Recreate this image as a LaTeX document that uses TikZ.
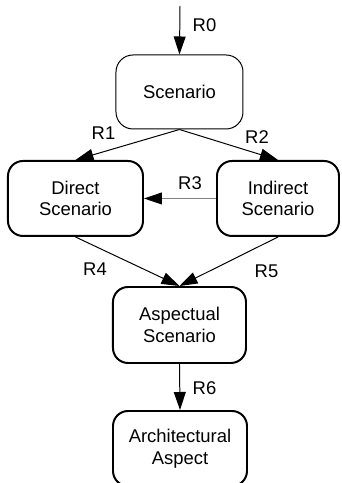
\documentclass[tikz,border=0pt]{standalone}
\usepackage{fontspec}
\setmainfont{Liberation Sans}
\usetikzlibrary{arrows.meta}
\begin{document}
\begin{tikzpicture}[
    box/.style={draw, line width=0.070cm, rounded corners=0.530cm, align=center, inner sep=0cm},
    thinbox/.style={box, line width=0.035cm, rounded corners=0.600cm},
    rlabel/.style={inner sep=0cm},
    link/.style={line width=0.035cm, -{Triangle[length=0.635cm, width=0.420cm, black]}}
  ]
  \useasboundingbox (0,0) rectangle (12.030000,17.039000);
  {\fontsize{18.5}{21.7}\selectfont

  % Drawing box Scenario
  \node [thinbox, minimum width=4.480000cm, minimum height=2.611000cm] (scen) at (6.332000,13.794000) {Scenario};%

  % Drawing box Direct Scenario
  \node [box, minimum width=4.763000cm, minimum height=2.646000cm] (direct) at (2.663000,10.037000) {Direct\\Scenario};%

  % Drawing box Indirect Scenario
  \node [box, minimum width=4.304000cm, minimum height=2.646000cm] (indirect) at (9.807000,10.037000) {Indirect\\Scenario};%

  % Drawing box Aspectual Scenario
  \node [box, minimum width=4.692000cm, minimum height=2.681000cm] (aspectual) at (6.332000,5.574000) {Aspectual\\Scenario};%

  % Drawing box Architectural Aspect
  \node [box, minimum width=4.727000cm, minimum height=2.646000cm] (arch) at (6.350000,1.217000) {Architectural\\Aspect};%

  % Marking entry point
  \coordinate (entry) at (6.350000,16.828000);%

  % Drawing relations R0 .. R6
  \draw [link] (entry) -- (scen.north);%
  \draw [link] (scen.south) -- (direct.north);%
  \draw [link] (scen.south) -- (indirect.north);%
  \draw [link, draw=black!50] (indirect.west) -- (direct.east);%
  \draw [link] (direct.south) -- (aspectual.north);%
  \draw [link] (indirect.south) -- (aspectual.north);%
  \draw [link] (aspectual.south) -- (arch.north);%

  % Marking labels R0 .. R6
  \node [rlabel] (lr0) at (7.214000,16.157000) {R0};%
  \node [rlabel] (lr1) at (3.651000,12.330000) {R1};%
  \node [rlabel] (lr2) at (9.066000,12.188000) {R2};%
  \node [rlabel] (lr3) at (6.703000,10.566000) {R3};%
  \node [rlabel] (lr4) at (3.351000,7.532000) {R4};%
  \node [rlabel] (lr5) at (9.401000,7.479000) {R5};%
  \node [rlabel] (lr6) at (7.214000,3.334000) {R6};%
  }
\end{tikzpicture}
\end{document}
